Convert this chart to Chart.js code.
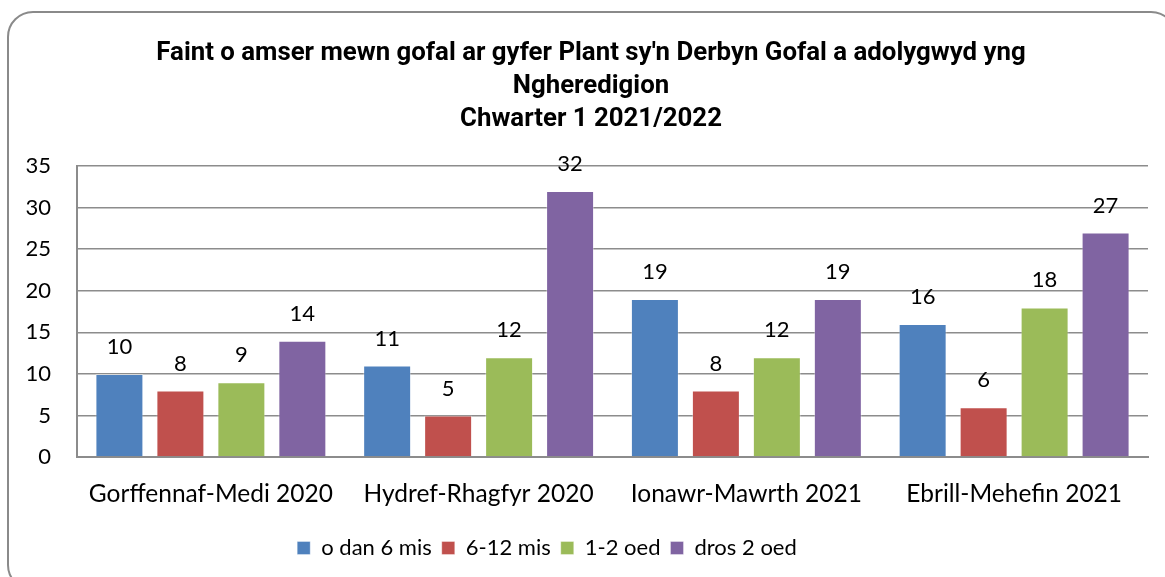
<!DOCTYPE html>
<html>
<head>
<meta charset="utf-8">
<script src="https://cdn.jsdelivr.net/npm/chart.js@4.4.1/dist/chart.umd.min.js"></script>
<style>
    body {
        margin: 0;
        background: #ffffff;
    }
    #wrap {
        position: relative;
        width: 1165px;
        height: 577px;
        overflow: hidden;
    }
    #frame {
        position: absolute;
        left: 7px;
        top: 11px;
        width: 1170px;
        height: 580px;
        border: 2px solid #8a8a8a;
        border-radius: 26px;
        pointer-events: none;
        box-sizing: border-box;
    }
</style>
</head>
<body>
<div id="wrap">
    <canvas id="careChart" width="1165" height="577"></canvas>
    <div id="frame"></div>
</div>

<script>
const titleLines = [
    "Faint o amser mewn gofal ar gyfer Plant sy'n Derbyn Gofal a adolygwyd yng",
    "Ngheredigion",
    "Chwarter 1 2021/2022"
];

const quarters = [
    "Gorffennaf-Medi 2020",
    "Hydref-Rhagfyr 2020",
    "Ionawr-Mawrth 2021",
    "Ebrill-Mehefin 2021"
];

const seriesNames = ["o dan 6 mis", "6-12 mis", "1-2 oed", "dros 2 oed"];
const seriesColors = ["#4f81bd", "#c0504d", "#9bbb59", "#8064a2"];

const under6Months = [10, 11, 19, 16];
const sixTo12Months = [8, 5, 8, 6];
const oneToTwoYears = [9, 12, 12, 18];
const overTwoYears = [14, 32, 19, 27];

const yTicks = [0, 5, 10, 15, 20, 25, 30, 35];

const bodyFont = "Lato, 'Open Sans', sans-serif";

// value labels above each bar
const valueLabels = {
    id: "valueLabels",
    afterDatasetsDraw(chart) {
        const ctx = chart.ctx;
        ctx.save();
        ctx.font = "22px " + bodyFont;
        ctx.fillStyle = "#000000";
        ctx.textAlign = "center";
        ctx.textBaseline = "middle";
        chart.data.datasets.forEach((ds, i) => {
            const meta = chart.getDatasetMeta(i);
            meta.data.forEach((bar, j) => {
                ctx.fillText(String(ds.data[j]), bar.x, bar.y - 27);
            });
        });
        ctx.restore();
    }
};

// the original has the title a bit right of centre and the legend a bit left
const nudgeBlocks = {
    id: "nudgeBlocks",
    afterUpdate(chart) {
        if (chart.titleBlock) {
            chart.titleBlock.left += 17;
            chart.titleBlock.right += 17;
        }
        if (chart.legend) {
            chart.legend.left -= 27;
            chart.legend.right -= 27;
        }
    }
};

const allSeries = [under6Months, sixTo12Months, oneToTwoYears, overTwoYears];

const datasets = allSeries.map((values, i) => ({
    label: seriesNames[i],
    data: values,
    backgroundColor: seriesColors[i],
    borderColor: "rgba(255,255,255,0.35)",
    borderWidth: 1,
    categoryPercentage: 0.911,
    barPercentage: 0.787
}));

const ctx = document.getElementById("careChart").getContext("2d");

new Chart(ctx, {
    type: "bar",
    data: {
        labels: quarters,
        datasets: datasets
    },
    options: {
        responsive: false,
        animation: false,
        layout: {
            padding: { left: 0, right: 17, top: 0, bottom: 8 }
        },
        plugins: {
            title: {
                display: true,
                text: titleLines,
                color: "#000000",
                font: {
                    family: "Roboto, sans-serif",
                    size: 25.8,
                    weight: "bold",
                    lineHeight: 1.28
                },
                padding: { top: 37, bottom: 30 }
            },
            legend: {
                position: "bottom",
                labels: {
                    boxWidth: 13,
                    boxHeight: 13,
                    padding: 10,
                    color: "#000000",
                    font: { family: bodyFont, size: 22 }
                }
            },
            tooltip: { enabled: false }
        },
        scales: {
            x: {
                grid: { display: false, drawTicks: false },
                border: { color: "#8c8c8c", width: 2 },
                ticks: {
                    color: "#000000",
                    padding: 22,
                    font: { family: bodyFont, size: 24.5 }
                },
                afterFit(scale) {
                    scale.height = 70;
                }
            },
            y: {
                min: 0,
                max: 35,
                afterBuildTicks(scale) {
                    scale.ticks = yTicks.map(v => ({ value: v }));
                },
                grid: {
                    color: "#8c8c8c",
                    lineWidth: 1.5,
                    drawTicks: false
                },
                border: { color: "#8c8c8c", width: 2 },
                ticks: {
                    color: "#000000",
                    padding: 26,
                    font: { family: bodyFont, size: 22 }
                },
                afterFit(scale) {
                    scale.width = 77;
                }
            }
        }
    },
    plugins: [valueLabels, nudgeBlocks]
});
</script>
</body>
</html>
